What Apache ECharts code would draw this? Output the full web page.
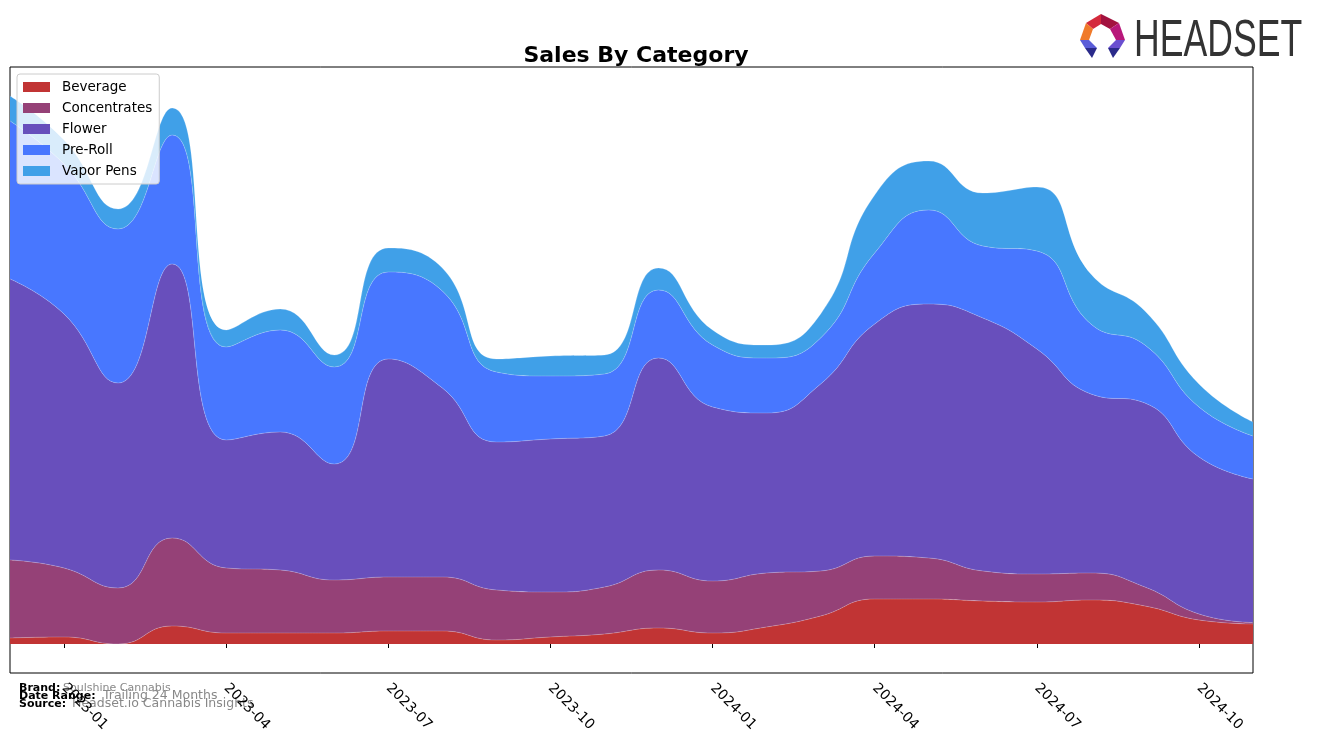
<!DOCTYPE html>
<html>
<head>
<meta charset="utf-8">
<script src="https://cdn.jsdelivr.net/npm/echarts@6/dist/echarts.min.js"></script>
<style>
html,body{margin:0;padding:0;background:#fff;}
#chart{width:1317px;height:743px;}
</style>
</head>
<body>
<div id="chart"></div>
<script>
const months = ['2022-12','2023-01','2023-02','2023-03','2023-04','2023-05','2023-06','2023-07','2023-08','2023-09','2023-10','2023-11',
                '2023-12','2024-01','2024-02','2024-03','2024-04','2024-05','2024-06','2024-07','2024-08','2024-09','2024-10','2024-11'];
const tickLabels = ['2023-01','2023-04','2023-07','2023-10','2024-01','2024-04','2024-07','2024-10'];
const beverage     = [6, 7, 0, 18, 11, 11, 11, 13, 13, 4, 7, 10, 16, 11, 17, 28, 45, 45, 43, 42, 44, 38, 24, 20];
const concentrates = [78, 69, 56, 88, 65, 63, 53, 54, 54, 50, 45, 47, 58, 52, 54, 45, 43, 41, 30, 28, 27, 19, 6, 1.5];
const flower       = [281, 254, 205, 274, 128, 138, 116, 218, 189, 148, 153, 151, 212, 174, 160, 187, 232, 254, 253, 225, 179, 184, 157, 143.5];
const preRoll      = [158, 150, 154, 129, 93, 102, 97, 87, 97, 70, 63, 62, 68, 62, 55, 46, 71, 94, 72, 98, 70, 58, 50, 43];
const vaporPens    = [25, 24, 20, 27, 17, 21, 12, 24, 23, 13, 20, 19, 22, 15, 13, 24, 58, 49, 53, 64, 50, 34, 23, 14];

const seriesDefs = [
  {name:'Beverage', data:beverage, color:'#c13434'},
  {name:'Concentrates', data:concentrates, color:'#954177'},
  {name:'Flower', data:flower, color:'#684fbc'},
  {name:'Pre-Roll', data:preRoll, color:'#4877ff'},
  {name:'Vapor Pens', data:vaporPens, color:'#40a0e8'}
];

const chart = echarts.init(document.getElementById('chart'), null, {renderer:'canvas'});
const font = 'DejaVu Sans';
const option = {
  animation:false,
  backgroundColor:'#fff',
  title:{
    text:'Sales By Category', left:631, top:40, textAlign:'center',
    textStyle:{fontFamily:font, fontWeight:'bold', fontSize:22, color:'#000'}
  },
  grid:{left:10, top:67, width:1243, height:606, show:true, borderColor:'#000', borderWidth:1, backgroundColor:'transparent'},
  legend:{
    orient:'vertical', left:17, top:74, padding:[6,7,6,6],
    itemWidth:27, itemHeight:10, itemGap:7, icon:'rect',
    backgroundColor:'rgba(255,255,255,0.8)', borderColor:'#cccccc', borderWidth:1, borderRadius:3,
    textStyle:{fontFamily:font, fontSize:13.5, color:'#000', lineHeight:14, padding:[0,0,0,7]},
    data:seriesDefs.map(s=>s.name)
  },
  xAxis:{
    type:'category', data:months, boundaryGap:false,
    axisLine:{show:false},
    axisTick:{show:true, length:4, lineStyle:{color:'#000'}, interval:(i,v)=>tickLabels.includes(months[i])},
    axisLabel:{
      rotate:-45, margin:13, color:'#000', fontFamily:font, fontSize:14,
      interval:(i,v)=>tickLabels.includes(v)
    },
    splitLine:{show:false}
  },
  yAxis:{type:'value', min:-29, max:577, show:false, splitLine:{show:false}},
  series:seriesDefs.map(s=>({
    name:s.name, type:'line', stack:'total', smooth:0.5, showSymbol:false, symbol:'none',
    data:s.data, color:s.color,
    lineStyle:{width:0.6, color:'rgba(255,255,255,0.35)'},
    areaStyle:{color:s.color, opacity:1}
  })),
  graphic:[
    {type:'text', left:19, top:683, style:{text:'Brand:', font:'bold 11px "DejaVu Sans"', fill:'#000'}},
    {type:'text', left:63, top:683, style:{text:'Soulshine Cannabis', font:'11px "DejaVu Sans"', fill:'#888'}},
    {type:'text', left:19, top:691, style:{text:'Date Range:', font:'bold 11px "DejaVu Sans"', fill:'#000'}},
    {type:'text', left:103, top:689, style:{text:'Trailing 24 Months', font:'12.5px "DejaVu Sans"', fill:'#888'}},
    {type:'text', left:19, top:699, style:{text:'Source:', font:'bold 11px "DejaVu Sans"', fill:'#000'}},
    {type:'text', left:72, top:697, style:{text:'Headset.io Cannabis Insights', font:'12.5px "DejaVu Sans"', fill:'#888'}},
    // logo icon
    {type:'polygon', shape:{points:[[1086,23],[1101,14],[1101,24],[1093,29]]}, style:{fill:'#d42a3c'}},
    {type:'polygon', shape:{points:[[1101,14],[1119,23],[1110,29],[1101,24]]}, style:{fill:'#a3123f'}},
    {type:'polygon', shape:{points:[[1080,40],[1086,23],[1093,29],[1089,40]]}, style:{fill:'#f07a2a'}},
    {type:'polygon', shape:{points:[[1119,23],[1125,40],[1116,40],[1110,29]]}, style:{fill:'#b8177a'}},
    {type:'polygon', shape:{points:[[1080,40],[1089,40],[1097,48],[1085,48]]}, style:{fill:'#5a5cd8'}},
    {type:'polygon', shape:{points:[[1085,48],[1097,48],[1092,58]]}, style:{fill:'#2a2a8a'}},
    {type:'polygon', shape:{points:[[1125,40],[1116,40],[1108,48],[1120,48]]}, style:{fill:'#6a4fd0'}},
    {type:'polygon', shape:{points:[[1120,48],[1108,48],[1113,58]]}, style:{fill:'#2a2a8a'}},
    {type:'text', x:1134, y:16, scaleX:0.685, style:{text:'HEADSET', font:'52px "Liberation Sans"', fill:'#333', textVerticalAlign:'top'}}
  ]
};
chart.setOption(option);
</script>
</body>
</html>
